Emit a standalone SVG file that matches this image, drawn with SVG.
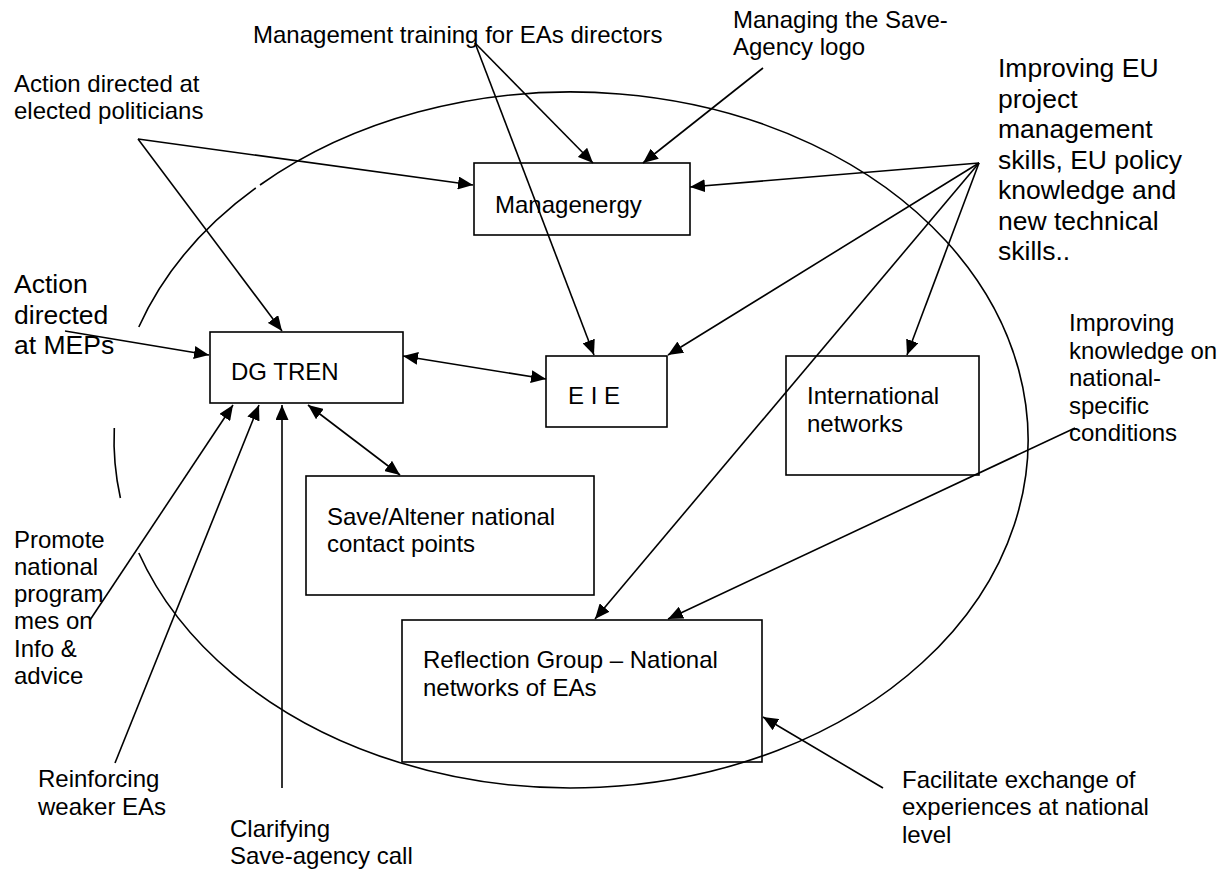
<svg xmlns="http://www.w3.org/2000/svg" width="1229" height="870" viewBox="0 0 1229 870">
<style>
text{font-family:"Liberation Sans",Arial,sans-serif;font-size:24px;fill:#000}
.big{font-size:26.5px}
.box{fill:none;stroke:#000;stroke-width:1.6}
.c{fill:none;stroke:#000;stroke-width:1.6}
.ell{fill:none;stroke:#000;stroke-width:1.6}
</style>
<defs>
<marker id="ah" markerUnits="userSpaceOnUse" markerWidth="16" markerHeight="13" refX="15" refY="6.5" orient="auto-start-reverse">
<path d="M0,0 L15,6.5 L0,13 z" fill="#000"/>
</marker>
</defs>
<rect width="1229" height="870" fill="#fff"/>
<g id="ellipse">
<path class="ell" d="M260,185 A457 348 0 1 1 138.8,553"/>
<path class="ell" d="M120.4,498 A457 348 0 0 1 114.3,428"/>
<path class="ell" d="M138.8,327 A457 348 0 0 1 255.8,188"/>
</g>
<g id="labels">
<text x="253" y="43">Management training for EAs directors</text>
<text x="733" y="28">Managing the Save-</text>
<text x="733" y="55">Agency logo</text>
<text x="14" y="92">Action directed at</text>
<text x="14" y="119">elected politicians</text>
<g class="big">
<text class="big" x="998" y="77">Improving EU</text>
<text class="big" x="998" y="107.5">project</text>
<text class="big" x="998" y="138">management</text>
<text class="big" x="998" y="168.5">skills, EU policy</text>
<text class="big" x="998" y="199">knowledge and</text>
<text class="big" x="998" y="229.5">new technical</text>
<text class="big" x="998" y="260">skills..</text>
<text class="big" x="14" y="293">Action</text>
<text class="big" x="14" y="323.5">directed</text>
<text class="big" x="14" y="354">at MEPs</text>
</g>
<text x="1069" y="331">Improving</text>
<text x="1069" y="358.5">knowledge on</text>
<text x="1069" y="386">national-</text>
<text x="1069" y="413.5">specific</text>
<text x="1069" y="441">conditions</text>
<text x="14" y="548">Promote</text>
<text x="14" y="575">national</text>
<text x="14" y="602">program</text>
<text x="14" y="629">mes on</text>
<text x="14" y="657">Info &amp;</text>
<text x="14" y="684">advice</text>
<text x="38" y="787">Reinforcing</text>
<text x="38" y="815">weaker EAs</text>
<text x="230" y="837">Clarifying</text>
<text x="230" y="864">Save-agency call</text>
<text x="902" y="788">Facilitate exchange of</text>
<text x="902" y="815">experiences at national</text>
<text x="902" y="843">level</text>
</g>
<g id="managenergy">
<rect class="box" x="474" y="163" width="216" height="72"/>
<text x="495" y="213">Managenergy</text>
</g>
<g id="dgtren">
<rect class="box" x="210" y="332" width="193" height="71"/>
<text x="231" y="380">DG TREN</text>
</g>
<g id="eie">
<rect class="box" x="546" y="356" width="121" height="71"/>
<text x="568" y="404">E I E</text>
</g>
<g id="international">
<rect class="box" x="786" y="356" width="193" height="119"/>
<text x="807" y="404">International</text>
<text x="807" y="432">networks</text>
</g>
<g id="savealtener">
<rect class="box" x="306" y="476" width="288" height="119"/>
<text x="327" y="525">Save/Altener national</text>
<text x="327" y="552">contact points</text>
</g>
<g id="reflection">
<rect class="box" x="402" y="620" width="360" height="142"/>
<text x="423" y="668">Reflection Group – National</text>
<text x="423" y="696">networks of EAs</text>
</g>
<g id="connectors">
<line class="c" x1="138" y1="139" x2="473" y2="185" marker-end="url(#ah)"/>
<line class="c" x1="138" y1="139" x2="282" y2="331" marker-end="url(#ah)"/>
<line class="c" x1="475" y1="43" x2="593" y2="163" marker-end="url(#ah)"/>
<line class="c" x1="475" y1="43" x2="594" y2="355" marker-end="url(#ah)"/>
<line class="c" x1="763" y1="68" x2="643" y2="163" marker-end="url(#ah)"/>
<line class="c" x1="979" y1="163" x2="690" y2="187" marker-end="url(#ah)"/>
<line class="c" x1="979" y1="163" x2="668" y2="355" marker-end="url(#ah)"/>
<line class="c" x1="979" y1="163" x2="595" y2="619" marker-end="url(#ah)"/>
<line class="c" x1="979" y1="163" x2="907" y2="355" marker-end="url(#ah)"/>
<line class="c" x1="1075" y1="428" x2="668" y2="619" marker-end="url(#ah)"/>
<line class="c" x1="883" y1="788" x2="763" y2="717" marker-end="url(#ah)"/>
<line class="c" x1="65" y1="331" x2="209" y2="355" marker-end="url(#ah)"/>
<line class="c" x1="403" y1="356" x2="546" y2="379" marker-start="url(#ah)" marker-end="url(#ah)"/>
<line class="c" x1="308" y1="405" x2="400" y2="475" marker-start="url(#ah)" marker-end="url(#ah)"/>
<line class="c" x1="90" y1="620" x2="233" y2="405" marker-end="url(#ah)"/>
<line class="c" x1="115" y1="763" x2="259" y2="405" marker-end="url(#ah)"/>
<line class="c" x1="282" y1="788" x2="282" y2="405" marker-end="url(#ah)"/>
</g>
</svg>
